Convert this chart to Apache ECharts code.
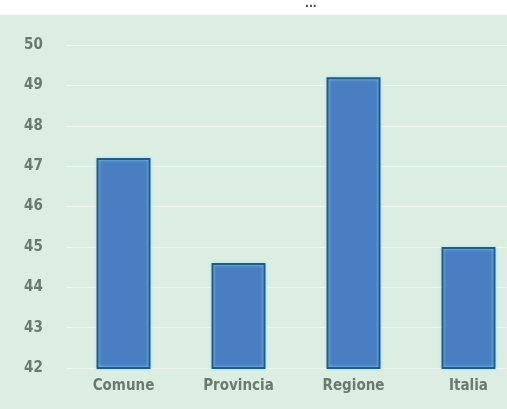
<!DOCTYPE html>
<html><head><meta charset="utf-8">
<script src="https://cdn.jsdelivr.net/npm/echarts@6/dist/echarts.min.js"></script>
<style>html,body{margin:0;padding:0;background:#fff}#c{width:507px;height:409px}</style>
</head><body><div id="c"></div>
<script>
const categories = ['Comune', 'Provincia', 'Regione', 'Italia'];
const values = [47.2, 44.6, 49.2, 45.0];
const yMin = 42, yMax = 50, yStep = 1;
const font = "'Liberation Sans Narrow','DejaVu Sans Condensed','Roboto',sans-serif";
const chart = echarts.init(document.getElementById('c'), null, {renderer: 'canvas'});
chart.setOption({
  animation: false,
  backgroundColor: '#ffffff',
  graphic: [
    {type: 'rect', z: -10, shape: {x: 0, y: 15, width: 507, height: 394}, style: {fill: '#dcede2'}},
    {type: 'text', left: 305, top: -4, style: {text: '...', fill: '#555', font: 'bold 14px sans-serif'}}
  ],
  grid: {left: 66, right: -19, top: 45, bottom: 41, outerBoundsMode: 'none', containLabel: false},
  xAxis: {
    type: 'category', data: categories,
    axisLine: {show: false}, axisTick: {show: false},
    axisLabel: {color: '#6a7a6c', fontFamily: font, fontWeight: 'bold', fontSize: 15, margin: 11}
  },
  yAxis: {
    type: 'value', min: yMin, max: yMax, interval: yStep,
    axisLine: {show: false}, axisTick: {show: false},
    axisLabel: {color: '#6a7a6c', fontFamily: font, fontWeight: 'bold', fontSize: 15, align: 'left', margin: 42},
    splitLine: {lineStyle: {color: '#eef6f1', width: 1}}
  },
  series: [{
    type: 'bar', data: values, barWidth: 54,
    itemStyle: {color: '#4a7ec2', borderColor: '#1d5d8c', borderWidth: 2,
      shadowColor: 'rgba(150,230,255,0.9)', shadowBlur: 3}
  }]
});
</script></body></html>
